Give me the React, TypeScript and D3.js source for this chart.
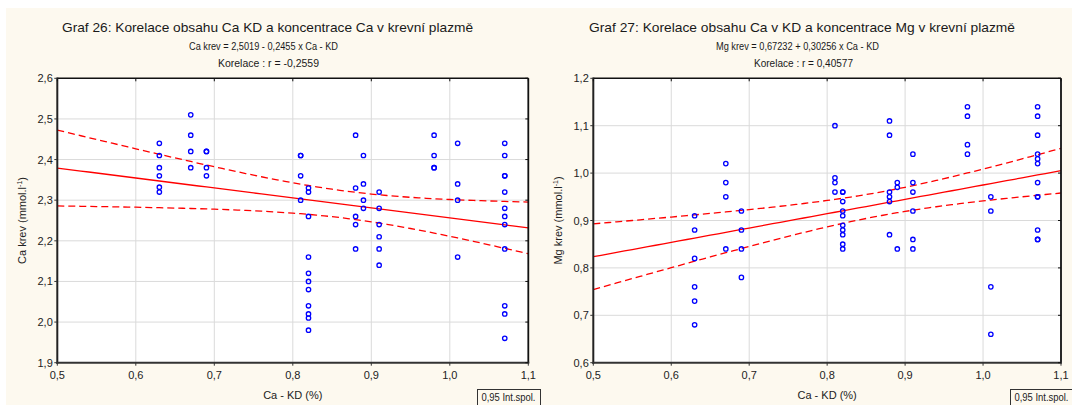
import React from 'react';
import * as d3 from 'd3';

// ---------- shared ----------
const xTicks = [0.5, 0.6, 0.7, 0.8, 0.9, 1.0, 1.1];
const legendText = '0,95 Int.spol.';
const xAxisTitle = 'Ca - KD (%)';

// ---------- Graf 26 ----------
const leftTitle = 'Graf 26: Korelace obsahu Ca KD a koncentrace Ca v krevní plazmě';
const leftEquation = 'Ca krev = 2,5019 - 0,2455  x Ca - KD';
const leftCorr = 'Korelace :   r = -0,2559';
const leftYTitle = 'Ca krev (mmol.l';
const leftYTicks = [1.9, 2.0, 2.1, 2.2, 2.3, 2.4, 2.5, 2.6];
const leftCoef = [2.5019, -0.2455];
const leftColumns = [0.63, 0.67, 0.69, 0.81, 0.82, 0.88, 0.89, 0.91, 0.98, 1.01, 1.07];
const leftValues = [
  [2.44, 2.41, 2.38, 2.36, 2.332, 2.32],
  [2.51, 2.46, 2.42, 2.38],
  [2.42, 2.42, 2.38, 2.36],
  [2.41, 2.41, 2.36, 2.30],
  [2.33, 2.32, 2.26, 2.16, 2.12, 2.10, 2.08, 2.04, 2.02, 2.01, 1.98],
  [2.46, 2.33, 2.26, 2.24, 2.18],
  [2.41, 2.34, 2.30, 2.28],
  [2.32, 2.28, 2.24, 2.21, 2.18, 2.14],
  [2.46, 2.41, 2.38, 2.38],
  [2.44, 2.34, 2.30, 2.16],
  [2.44, 2.41, 2.36, 2.36, 2.32, 2.28, 2.26, 2.24, 2.18, 2.04, 2.02, 1.96],
];

// ---------- Graf 27 ----------
const rightTitle = 'Graf 27:  Korelace obsahu Ca v KD a koncentrace Mg v krevní plazmě';
const rightEquation = 'Mg krev = 0,67232 + 0,30256 x Ca - KD';
const rightCorr = 'Korelace :   r = 0,40577';
const rightYTitle = 'Mg krev (mmol.l';
const rightYTicks = [0.6, 0.7, 0.8, 0.9, 1.0, 1.1, 1.2];
const rightCoef = [0.67232, 0.30256];
const rightColumns = [0.63, 0.67, 0.69, 0.81, 0.82, 0.88, 0.89, 0.91, 0.98, 1.01, 1.07];
const rightValues = [
  [0.91, 0.88, 0.82, 0.76, 0.73, 0.68],
  [1.02, 0.98, 0.95, 0.84],
  [0.92, 0.88, 0.84, 0.78],
  [1.10, 0.99, 0.98, 0.96],
  [0.96, 0.96, 0.94, 0.92, 0.91, 0.89, 0.88, 0.87, 0.85, 0.84],
  [1.11, 1.08, 0.96, 0.95, 0.94, 0.87],
  [0.98, 0.97, 0.84],
  [1.04, 0.98, 0.96, 0.92, 0.86, 0.84],
  [1.14, 1.12, 1.06, 1.04],
  [0.95, 0.92, 0.76, 0.66],
  [1.14, 1.12, 1.08, 1.04, 1.03, 1.02, 0.98, 0.95, 0.95, 0.88, 0.86, 0.86],
];

const FONT = '"Liberation Sans", Arial, sans-serif';
const fmt = (v: number) => d3.format('.1f')(v).replace('.', ',');

type PanelProps = {
  left: number; right: number; top: number; bottom: number;
  yTicks: number[]; columns: number[]; values: number[][]; coef: number[];
  title: string; titleX: number; titleW: number;
  equation: string; eqX: number; eqW: number;
  corr: string; corrX: number; corrW: number;
  yTitle: string; yTitleX: number; legendX: number;
};

function Panel(p: PanelProps) {
  const x = d3.scaleLinear().domain([0.5, 1.1]).range([p.left, p.right]);
  const y = d3.scaleLinear().domain([p.yTicks[0], p.yTicks[p.yTicks.length - 1]]).range([p.bottom, p.top]);
  const pts: [number, number][] = [];
  p.columns.forEach((c, i) => p.values[i].forEach(v => pts.push([c, v])));
  const [a, b] = p.coef;
  const n = pts.length;
  const mx = d3.mean(pts, d => d[0]) as number;
  const sxx = d3.sum(pts, d => (d[0] - mx) ** 2);
  const sse = d3.sum(pts, d => (d[1] - (a + b * d[0])) ** 2);
  const s = Math.sqrt(sse / (n - 2));
  const t = 2.0;
  const xs = d3.range(0, 61).map(i => 0.5 + i * 0.01);
  const hw = (xv: number) => t * s * Math.sqrt(1 / n + (xv - mx) ** 2 / sxx);
  const fit = d3.line<number>().x(d => x(d)).y(d => y(a + b * d))(xs) as string;
  const up = d3.line<number>().x(d => x(d)).y(d => y(a + b * d + hw(d)))(xs) as string;
  const lo = d3.line<number>().x(d => x(d)).y(d => y(a + b * d - hw(d)))(xs) as string;
  const cx = (p.left + p.right) / 2;
  const cy = (p.top + p.bottom) / 2;
  const clipId = 'clip' + Math.round(p.left);
  return (
    <g fontFamily={FONT}>
      <defs>
        <clipPath id={clipId}>
          <rect x={p.left} y={p.top} width={p.right - p.left} height={p.bottom - p.top} />
        </clipPath>
      </defs>
      <text x={p.titleX} y={32} fontSize={13} fill="#1a1a1a" textLength={p.titleW} lengthAdjust="spacingAndGlyphs">{p.title}</text>
      <text x={p.eqX} y={49.5} fontSize={10} fill="#1a1a1a" textLength={p.eqW} lengthAdjust="spacingAndGlyphs">{p.equation}</text>
      <text x={p.corrX} y={66.5} fontSize={10} fill="#1a1a1a" textLength={p.corrW} lengthAdjust="spacingAndGlyphs">{p.corr}</text>
      <rect x={p.left} y={p.top} width={p.right - p.left} height={p.bottom - p.top} fill="#fff" />
      {xTicks.slice(1, -1).map(v => (
        <line key={'gx' + v} x1={x(v)} x2={x(v)} y1={p.top} y2={p.bottom} stroke="#dadada" strokeWidth={1} />
      ))}
      {p.yTicks.slice(1, -1).map(v => (
        <line key={'gy' + v} x1={p.left} x2={p.right} y1={y(v)} y2={y(v)} stroke="#dadada" strokeWidth={1} />
      ))}
      <g clipPath={`url(#${clipId})`}>
        <path d={fit} fill="none" stroke="#ff0000" strokeWidth={1.3} />
        <path d={up} fill="none" stroke="#ff0000" strokeWidth={1.3} strokeDasharray="7,4" />
        <path d={lo} fill="none" stroke="#ff0000" strokeWidth={1.3} strokeDasharray="7,4" />
      </g>
      {pts.map((d, i) => (
        <circle key={i} cx={x(d[0])} cy={y(d[1])} r={2.2} fill="none" stroke="#0000ff" strokeWidth={1.3} />
      ))}
      {/* frame */}
      <line x1={p.left} x2={p.right} y1={p.top} y2={p.top} stroke="#111" strokeWidth={1.5} />
      <line x1={p.right} x2={p.right} y1={p.top} y2={p.bottom} stroke="#111" strokeWidth={1.8} />
      <line x1={p.left} x2={p.left} y1={p.top - 0.8} y2={p.bottom + 1} stroke="#222" strokeWidth={2} />
      <line x1={p.left - 1} x2={p.right + 1} y1={p.bottom} y2={p.bottom} stroke="#333" strokeWidth={2} />
      {xTicks.map(v => (
        <g key={'tx' + v}>
          <line x1={x(v)} x2={x(v)} y1={p.bottom} y2={p.bottom + 3} stroke="#333" strokeWidth={1} />
          <line x1={x(v)} x2={x(v)} y1={p.top} y2={p.top + 3} stroke="#111" strokeWidth={1} />
          <text x={x(v)} y={379} fontSize={11} textAnchor="middle" fill="#222">{fmt(v)}</text>
        </g>
      ))}
      {p.yTicks.map(v => (
        <g key={'ty' + v}>
          <line x1={p.left - 3} x2={p.left} y1={y(v)} y2={y(v)} stroke="#333" strokeWidth={1} />
          <line x1={p.right - 3} x2={p.right} y1={y(v)} y2={y(v)} stroke="#111" strokeWidth={1} />
          <text x={p.left - 4.5} y={y(v) + 4} fontSize={11} textAnchor="end" fill="#222">{fmt(v)}</text>
        </g>
      ))}
      <text x={cx} y={399} fontSize={11} textAnchor="middle" fill="#222">{xAxisTitle}</text>
      <text transform={`translate(${p.yTitleX},${cy}) rotate(-90)`} fontSize={11} textAnchor="middle" fill="#222">
        {p.yTitle}
        <tspan dy={-4} fontSize={7}>-1</tspan>
        <tspan dy={4}>)</tspan>
      </text>
      <rect x={p.legendX} y={389.5} width={63} height={22} fill="#fdf9ef" stroke="#333" strokeWidth={1} />
      <text x={p.legendX + 4} y={401.3} fontSize={11} fill="#222" textLength={54} lengthAdjust="spacingAndGlyphs">{legendText}</text>
    </g>
  );
}

export default function App() {
  return (
    <svg width={1072} height={405} style={{ position: 'absolute', left: 0, top: 0, background: '#fff' }}>
      <rect x={6} y={8} width={1066} height={397} fill="#fdf9ef" />
      <Panel left={57.3} right={528.3} top={78.3} bottom={362.7} yTicks={leftYTicks}
        columns={leftColumns} values={leftValues} coef={leftCoef}
        title={leftTitle} titleX={62} titleW={411}
        equation={leftEquation} eqX={189} eqW={149}
        corr={leftCorr} corrX={218} corrW={101}
        yTitle={leftYTitle} yTitleX={26} legendX={477.5} />
      <Panel left={593.3} right={1061} top={78.3} bottom={362.7} yTicks={rightYTicks}
        columns={rightColumns} values={rightValues} coef={rightCoef}
        title={rightTitle} titleX={589} titleW={426}
        equation={rightEquation} eqX={716} eqW={163}
        corr={rightCorr} corrX={754} corrW={99}
        yTitle={rightYTitle} yTitleX={562} legendX={1010.5} />
    </svg>
  );
}
